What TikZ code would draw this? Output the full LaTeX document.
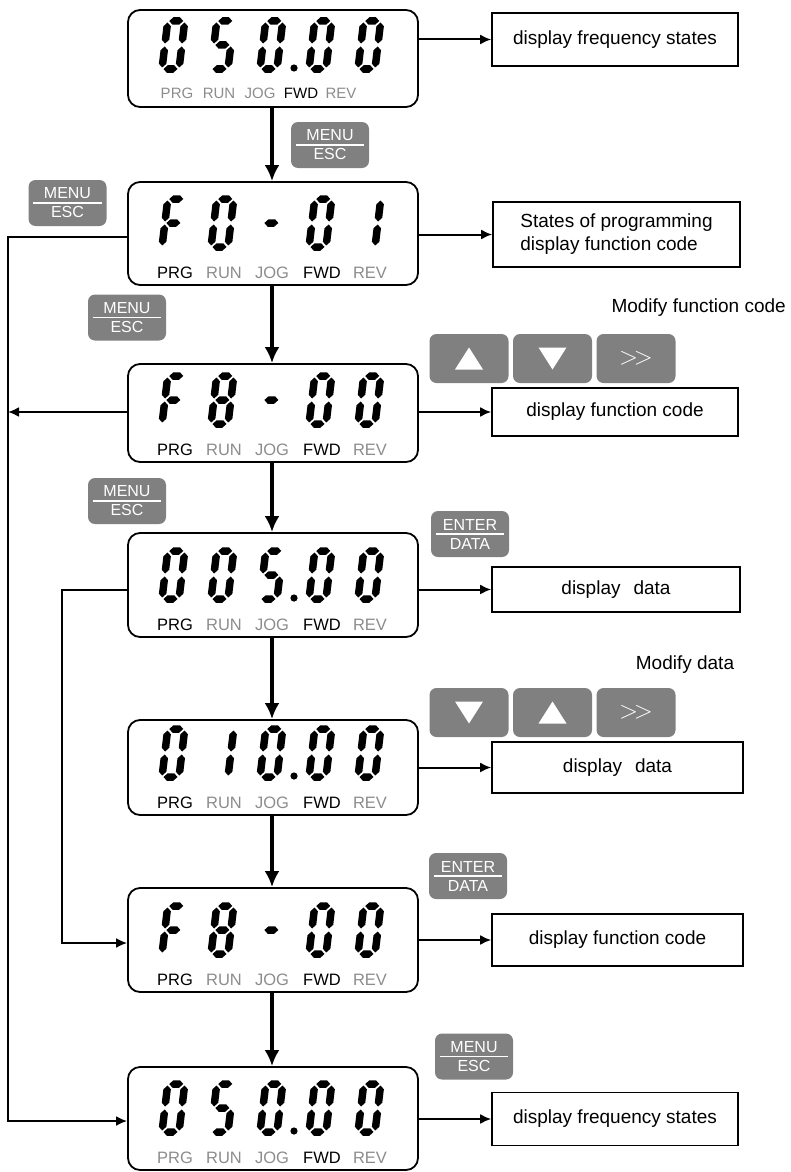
\documentclass[tikz,border=0pt]{standalone}
\usepackage{fontspec}
\setmainfont{Liberation Sans}
\usetikzlibrary{arrows.meta}
\definecolor{btngray}{HTML}{808080}
\definecolor{dim}{HTML}{8C8C8C}
% seven-segment pieces (local coords, y up), thickness 7.5
\def\SGa{\fill (1.5,48)--(5.25,51.75)--(11.75,51.75)--(15.5,48)--(11.75,44.25)--(5.25,44.25)--cycle;}
\def\SGg{\fill (1.5,24)--(5.25,27.75)--(11.75,27.75)--(15.5,24)--(11.75,20.25)--(5.25,20.25)--cycle;}
\def\SGd{\fill (1.5,0)--(5.25,3.75)--(11.75,3.75)--(15.5,0)--(11.75,-3.75)--(5.25,-3.75)--cycle;}
\def\SGf{\fill (0,25.5)--(3.75,29.25)--(3.75,42.75)--(0,46.5)--(-3.75,42.75)--(-3.75,29.25)--cycle;}
\def\SGe{\fill (0,1.5)--(3.75,5.25)--(3.75,18.75)--(0,22.5)--(-3.75,18.75)--(-3.75,5.25)--cycle;}
\def\SGb{\fill (17,25.5)--(20.75,29.25)--(20.75,42.75)--(17,46.5)--(13.25,42.75)--(13.25,29.25)--cycle;}
\def\SGc{\fill (17,1.5)--(20.75,5.25)--(20.75,18.75)--(17,22.5)--(13.25,18.75)--(13.25,5.25)--cycle;}
\def\Dzero{\SGa\SGb\SGc\SGd\SGe\SGf}
\def\Done{\SGb\SGc}
\def\Dfive{\SGa\SGf\SGg\SGc\SGd}
\def\Deight{\SGa\SGb\SGc\SGd\SGe\SGf\SGg}
\def\DF{\SGa\SGf\SGg\SGe}
\def\Ddash{\SGg}
\newcommand\dg[3]{\begin{scope}[shift={(#1,#2)},x=1pt,y=1pt,xslant=0.12]#3\end{scope}}
\newcommand\lcddig[6]{\dg{162}{#1-38}{#2}\dg{211}{#1-38}{#3}\dg{260}{#1-38}{#4}\dg{309}{#1-38}{#5}\dg{358}{#1-38}{#6}}
\newcommand\lcddot[1]{\fill (294,#1-39) circle (3.6pt);}
\newcommand\lcdlab[7]{%
 \node[lbl,text=#3] (#1p) at (175,#2-7) {PRG};
 \node[lbl,text=#4] (#1r) at (224,#2-7) {RUN};
 \node[lbl,text=#5] (#1j) at (272,#2-7) {JOG};
 \node[lbl,text=#6] (#1f) at (322,#2-7) {FWD};
 \node[lbl,text=#7] (#1v) at (370,#2-7) {REV};}
\begin{document}
\begin{tikzpicture}[x=1pt,y=-1pt,
  lcdbox/.style={draw, line width=1.8pt, rounded corners=12pt, minimum width=290pt, inner sep=0pt},
  desc/.style={draw, line width=1.6pt, inner sep=0pt, font=\fontsize{19}{23}\selectfont, align=center},
  btn/.style={fill=btngray, rounded corners=7pt, minimum width=78pt, minimum height=46pt, inner sep=0pt, text=white, font=\fontsize{16}{19}\selectfont, align=center},
  keybtn/.style={fill=btngray, rounded corners=7pt, minimum width=79pt, minimum height=49pt, inner sep=0pt},
  lbl/.style={font=\fontsize{16.5}{16.5}\selectfont, anchor=base, inner sep=0pt},
  lbltop/.style={font=\fontsize{15}{15}\selectfont, anchor=base, inner sep=0pt},
  note/.style={font=\fontsize{19}{23}\selectfont, inner sep=0pt},
  flow/.style={line width=3.5pt, -{Latex[length=16pt,width=15pt]}},
  conn/.style={line width=2pt, -{Latex[length=11pt,width=10pt]}},
  btnline/.style={draw=white, line width=1.2pt}]
\useasboundingbox (0,0) rectangle (791,1172);
% displays
\node[lcdbox, minimum height=97pt] (d1) at (273,58.5) {};
\node[lcdbox, minimum height=103pt] (d2) at (273,233.5) {};
\node[lcdbox, minimum height=98pt] (d3) at (273,413) {};
\node[lcdbox, minimum height=104pt] (d4) at (273,585) {};
\node[lcdbox, minimum height=95pt] (d5) at (273,767.5) {};
\node[lcdbox, minimum height=104pt] (d6) at (273,940) {};
\node[lcdbox, minimum height=103pt] (d7) at (273,1118.5) {};
% digits
\lcddig{107}{\Dzero}{\Dfive}{\Dzero}{\Dzero}{\Dzero}\lcddot{107}
\lcddig{285}{\DF}{\Dzero}{\Ddash}{\Dzero}{\Done}
\lcddig{462}{\DF}{\Deight}{\Ddash}{\Dzero}{\Dzero}
\lcddig{637}{\Dzero}{\Dzero}{\Dfive}{\Dzero}{\Dzero}\lcddot{637}
\lcddig{815}{\Dzero}{\Done}{\Dzero}{\Dzero}{\Dzero}\lcddot{815}
\lcddig{992}{\DF}{\Deight}{\Ddash}{\Dzero}{\Dzero}
\lcddig{1170}{\Dzero}{\Dfive}{\Dzero}{\Dzero}{\Dzero}\lcddot{1170}
% indicator labels
\node[lbltop,text=dim] (ap) at (177,99) {PRG};
\node[lbltop,text=dim] (ar) at (219,99) {RUN};
\node[lbltop,text=dim] (aj) at (260,99) {JOG};
\node[lbltop,text=black] (af) at (301,99) {FWD};
\node[lbltop,text=dim] (av) at (341,99) {REV};
\lcdlab{b}{285}{black}{dim}{dim}{black}{dim}
\lcdlab{c}{462}{black}{dim}{dim}{black}{dim}
\lcdlab{e}{637}{black}{dim}{dim}{black}{dim}
\lcdlab{f}{815}{black}{dim}{dim}{black}{dim}
\lcdlab{g}{992}{black}{dim}{dim}{black}{dim}
\lcdlab{h}{1170}{dim}{dim}{dim}{black}{dim}
% description boxes
\node[desc, minimum width=246pt, minimum height=53pt] (r1) at (615,39.5) {display frequency states};
\node[desc, minimum width=247pt, minimum height=65pt, align=left] (r2) at (616.5,234.5) {States of programming\\display function code};
\node[desc, minimum width=246pt, minimum height=48pt] (r3) at (615,412) {display function code};
\node[desc, minimum width=248pt, minimum height=45pt] (r4) at (616,589.5) {display\hspace{13pt}data};
\node[desc, minimum width=251pt, minimum height=51pt] (r5) at (617.5,767.5) {display\hspace{13pt}data};
\node[desc, minimum width=251pt, minimum height=52pt] (r6) at (617.5,940) {display function code};
\node[desc, minimum width=246pt, minimum height=53pt] (r7) at (615,1119) {display frequency states};
% buttons
\node[btn] (m1) at (330,145) {MENU\\ESC};
\node[btn] (m2) at (67.5,203) {MENU\\ESC};
\node[btn] (m3) at (127,317.5) {MENU\\ESC};
\node[btn] (m4) at (127,501) {MENU\\ESC};
\node[btn] (e1) at (470,534) {ENTER\\DATA};
\node[btn] (e2) at (468,876) {ENTER\\DATA};
\node[btn] (m5) at (474,1056.5) {MENU\\ESC};
\foreach \b in {m1,m2,m3,m4,e1,e2,m5}{
  \draw[btnline] ([xshift=5pt]\b.west) -- ([xshift=-5pt]\b.east);
}
% arrow keys
\node[keybtn] (k1) at (469,358.5) {};
\node[keybtn] (k2) at (552.5,358.5) {};
\node[keybtn] (k3) at (636,358.5) {\textcolor{white}{\fontsize{26}{26}\selectfont$>\!>$}};
\node[keybtn] (k4) at (469,712.5) {};
\node[keybtn] (k5) at (552.5,712.5) {};
\node[keybtn] (k6) at (636,712.5) {\textcolor{white}{\fontsize{26}{26}\selectfont$>\!>$}};
\fill[white] ([shift={(-14,11)}]k1.center) -- ([shift={(14,11)}]k1.center) -- ([shift={(0,-11)}]k1.center) -- cycle;
\fill[white] ([shift={(-14,-11)}]k2.center) -- ([shift={(14,-11)}]k2.center) -- ([shift={(0,11)}]k2.center) -- cycle;
\fill[white] ([shift={(-14,-11)}]k4.center) -- ([shift={(14,-11)}]k4.center) -- ([shift={(0,11)}]k4.center) -- cycle;
\fill[white] ([shift={(-14,11)}]k5.center) -- ([shift={(14,11)}]k5.center) -- ([shift={(0,-11)}]k5.center) -- cycle;
% notes
\node[note, anchor=east] (mf) at (786,308) {Modify function code};
\node[note] (md) at (685,665) {Modify data};
% main flow
\coordinate (ax) at (272,0);
\draw[flow] (d1.south -| ax) -- (d2.north -| ax);
\draw[flow] (d2.south -| ax) -- (d3.north -| ax);
\draw[flow] (d3.south -| ax) -- (d4.north -| ax);
\draw[flow] (d4.south -| ax) -- (d5.north -| ax);
\draw[flow] (d5.south -| ax) -- (d6.north -| ax);
\draw[flow] (d6.south -| ax) -- (d7.north -| ax);
% right arrows
\foreach \i in {1,...,7}{
  \draw[conn] (d\i.east |- r\i.west) -- (r\i.west);
}
% left return lines
\coordinate (lA) at (8,1121);
\coordinate (lC) at (62,943);
\draw[conn] (d2.west |- 0,237) -| (lA) -- (d7.west |- lA);
\draw[conn] (d3.west |- r3.west) -- (lA |- r3.west);
\draw[conn] (d4.west |- r4.west) -| (lC) -- (d6.west |- lC);
\end{tikzpicture}
\end{document}
